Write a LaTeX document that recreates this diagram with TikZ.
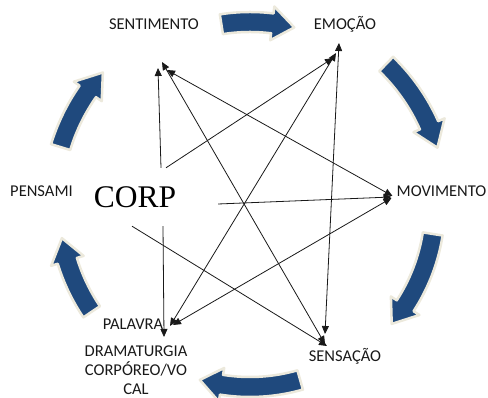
\documentclass[tikz,border=0pt]{standalone}
\usepackage{fontspec}
\setmainfont{Carlito}
\newfontfamily\corpfont{Liberation Serif}
\usetikzlibrary{positioning, arrows.meta}
\definecolor{arrowblue}{RGB}{31,73,125}
\definecolor{glow}{RGB}{236,233,220}

\begin{document}
\begin{tikzpicture}[x=1pt, y=1pt]

	\tikzstyle{lbl}=[inner sep=0, anchor=base, text=black!90, font=\fontsize{16.5}{19}\selectfont, align=center];
	\tikzstyle{lnk}=[draw=black!90, line width=0.8pt, -{Triangle[length=8pt, width=7pt]}];
	\tikzstyle{both}=[lnk, {Triangle[length=8pt, width=7pt]}-{Triangle[length=8pt, width=7pt]}];
	\tikzstyle{blk}=[fill=arrowblue, draw=glow, line width=2.5pt, line join=round];

	\useasboundingbox (0,0) rectangle (488,398);

	% cycle of block arrows
	\foreach \a/\b/\r in {99/76/183, 46/17/196, -9/-40/185, -74/-106/182, -146/-170/191, 163/138/198}
		\draw [blk, shift={(250,193)}] (\a:{\r+10}) arc[start angle=\a, end angle={\b+7}, radius={\r+10}]
			-- ({\b+7}:{\r+17}) -- (\b:\r) -- ({\b+7}:{\r-17}) -- ({\b+7}:{\r-10})
			arc[start angle={\b+7}, end angle=\a, radius={\r-10}] -- cycle;

	\node (sent) [lbl] at (154,368) {SENTIMENTO};
	\node (emo) [lbl] at (345,368) {EMOÇÃO};
	\node (mov) [lbl] at (441.5,201) {MOVIMENTO};
	\node (sens) [lbl] at (345,36) {SENSAÇÃO};
	\node (pal) [lbl] at (133,68) {PALAVRA};
	\node (dram) [lbl, anchor=north] at (136,52) {DRAMATURGIA\\CORPÓREO/VO\\CAL};
	\node (pens) [lbl] at (41.5,201) {PENSAMI};

	\node (corp) [inner sep=0, minimum width=166, minimum height=58, font=\corpfont\fontsize{31.5}{36}\selectfont] at (135,201) {CORP};

	\draw [lnk] ([xshift=26pt]corp.north) -- ([shift={(4,-38)}]sent.base);
	\draw [lnk] ([xshift=31pt]corp.north) -- ([shift={(-12,-28)}]emo.base);
	\draw [lnk] ([yshift=-7pt]corp.east) -- ([shift={(-50,0)}]mov.base);
	\draw [lnk] ([xshift=28pt]corp.south) -- ([shift={(31,-7)}]pal.base);
	\draw [lnk] ([xshift=-3pt]corp.south) -- ([shift={(-18,16)}]sens.base);

	\draw [both] ([shift={(13,-40)}]sent.base) -- ([shift={(-49,1)}]mov.base);
	\draw [both] ([shift={(8,-32)}]sent.base) -- ([shift={(-20,18)}]sens.base);
	\draw [both] ([shift={(-9,-23)}]emo.base) -- ([shift={(37,4)}]pal.base);
	\draw [both] ([shift={(-6,-13)}]emo.base) -- ([shift={(-20,28)}]sens.base);
	\draw [both] ([shift={(-50,-1)}]mov.base) -- ([shift={(40,5)}]pal.base);

\end{tikzpicture}
\end{document}
